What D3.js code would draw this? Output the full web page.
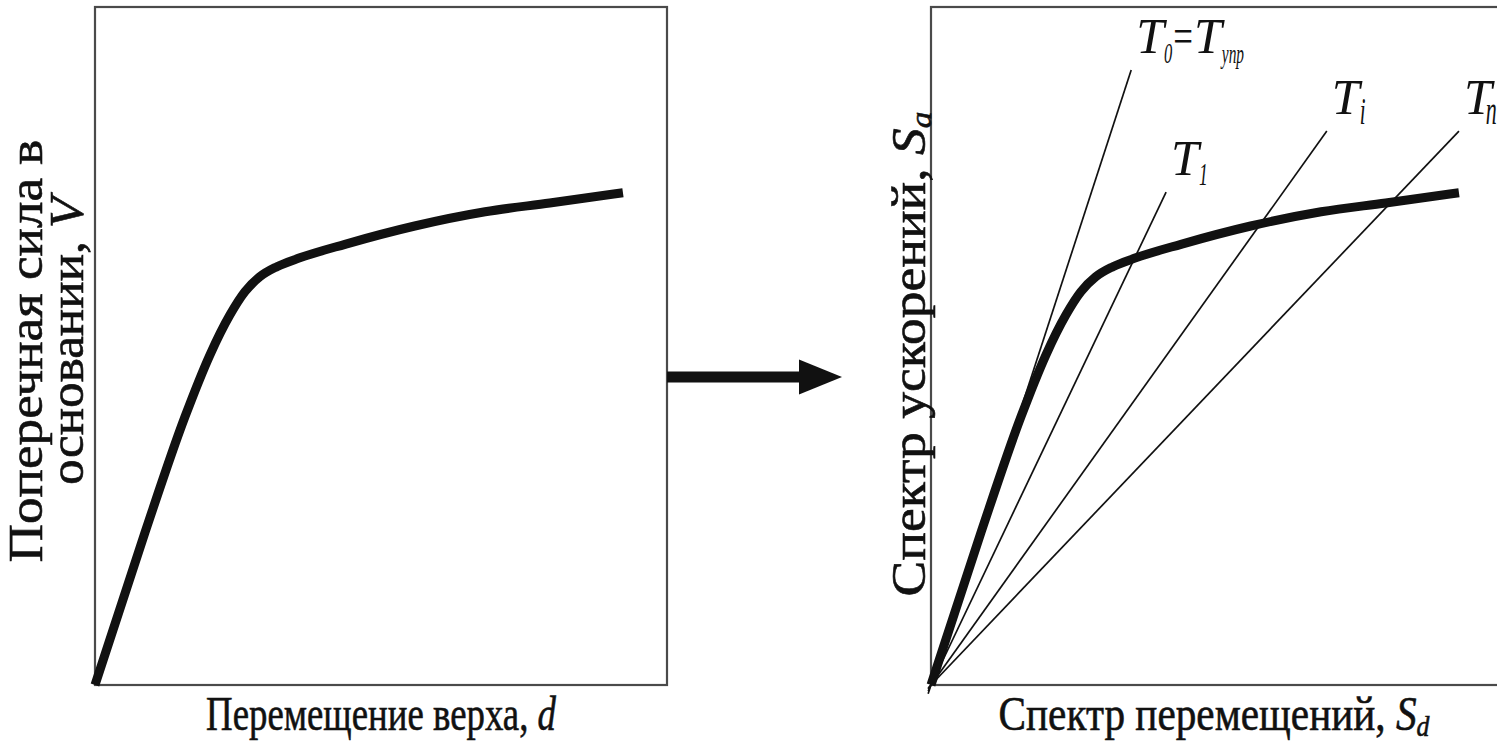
<!DOCTYPE html>
<html>
<head>
<meta charset="utf-8">
<script src="https://cdn.jsdelivr.net/npm/d3@7"></script>
<style>
  html, body { margin: 0; padding: 0; background: #fff; }
  svg { display: block; }
</style>
</head>
<body>
<svg id="chart" width="1497" height="744"></svg>
<script>
// Pushover curve: base shear V against roof displacement d (relative units)
const pushoverD = [0, 0.87, 1.57, 2.01, 2.36, 2.62, 2.88, 3.18, 3.58, 4.37, 5.59, 6.82, 7.95, 9.23];
const pushoverV = [0, 2.24, 3.95, 4.87, 5.46, 5.80, 6.02, 6.17, 6.30, 6.50, 6.77, 6.98, 7.11, 7.26];

// Capacity spectrum: the same curve converted to Sa–Sd coordinates
const capacitySd = [0, 0.87, 1.57, 2.01, 2.36, 2.62, 2.88, 3.18, 3.58, 4.37, 5.59, 6.82, 7.95, 9.23];
const capacitySa = [0, 2.24, 3.95, 4.87, 5.46, 5.80, 6.02, 6.17, 6.30, 6.50, 6.77, 6.98, 7.11, 7.26];

// Constant-period radial lines from the origin, given by their far end point
const periodNames = ["T0", "T1", "Ti", "Tn"];
const periodEndSd = [3.50, 4.11, 6.92, 9.23];
const periodEndSa = [9.07, 7.27, 8.17, 8.17];
const periodLabels = [
  [{ t: "T" }, { t: "0", sub: true, s: 30 }, { t: "=", op: true, k: 1 }, { t: "T", k: 1 }, { t: "упр", sub: true, s: 28, k: 0 }],
  [{ t: "T" }, { t: "1", sub: true, s: 32 }],
  [{ t: "T" }, { t: "i", sub: true, s: 38 }],
  [{ t: "T" }, { t: "n", sub: true, s: 40, k: -6 }]
];

// Axis titles (italic parts are marked)
const leftXTitle = [{ t: "Перемещение верха, " }, { t: "d", i: true }];
const leftYTitle1 = [{ t: "Поперечная сила в" }];
const leftYTitle2 = [{ t: "основании, " }, { t: "V", i: true }];
const rightXTitle = [{ t: "Спектр перемещений, " }, { t: "S", i: true }, { t: "d", i: true, sub: true }];
const rightYTitle = [{ t: "Спектр ускорений, " }, { t: "S", i: true }, { t: "a", i: true, sub: true }];

// ---- layout ----
const FONT = '"Liberation Serif", "DejaVu Serif Condensed", "DejaVu Serif", serif';
const panelW = 572, panelH = 678, panelTop = 7;
const leftX0 = 95, rightX0 = 931;

const svg = d3.select("#chart");
svg.append("rect").attr("width", 1497).attr("height", 744).attr("fill", "#fff");

const x = d3.scaleLinear().domain([0, 10]).range([0, panelW]);
const y = d3.scaleLinear().domain([0, 10]).range([panelH, 0]);

function panel(x0) {
  const g = svg.append("g").attr("transform", `translate(${x0},${panelTop})`);
  g.append("rect")
    .attr("x", 0).attr("y", 0).attr("width", panelW).attr("height", panelH)
    .attr("fill", "none").attr("stroke", "#4a4a4a").attr("stroke-width", 2.2);
  return g;
}

const curveLine = d3.line()
  .x(p => x(p[0]))
  .y(p => y(p[1]))
  .curve(d3.curveMonotoneX);

// Left panel: pushover curve
const gl = panel(leftX0);
gl.append("path")
  .datum(d3.zip(pushoverD, pushoverV))
  .attr("d", curveLine)
  .attr("fill", "none").attr("stroke", "#111").attr("stroke-width", 9)
  .attr("stroke-linejoin", "round");

// Right panel: radial period lines + capacity spectrum
const gr = panel(rightX0);
const radial = d3.line().x(p => x(p[0])).y(p => y(p[1]));
periodNames.forEach((name, i) => {
  gr.append("path")
    .datum([[-0.05, -0.05 * periodEndSa[i] / periodEndSd[i]], [periodEndSd[i], periodEndSa[i]]])
    .attr("d", radial)
    .attr("fill", "none").attr("stroke", "#111").attr("stroke-width", 1.7);
});
gr.append("path")
  .datum(d3.zip(capacitySd, capacitySa))
  .attr("d", curveLine)
  .attr("fill", "none").attr("stroke", "#111").attr("stroke-width", 9)
  .attr("stroke-linejoin", "round");

// Period labels placed just above the end of each line
periodLabels.forEach((parts, i) => {
  const lx = x(periodEndSd[i]) + 5, ly = y(periodEndSa[i]) - 17;
  const lab = gr.append("g").attr("transform", `translate(${lx},${ly})`);
  let cx = 0;
  parts.forEach(p => {
    const size = p.sub ? p.s : 50;
    const sx = p.sub ? 0.55 : (p.op ? 0.7 : 1);
    const k = p.k || 0;
    const t = lab.append("text")
      .attr("font-family", FONT)
      .attr("font-size", size)
      .attr("font-style", p.op ? "normal" : "italic")
      .attr("fill", "#111")
      .attr("transform", `translate(${cx + k},${p.sub ? 10 : 0}) scale(${sx},1)`)
      .text(p.t);
    cx += k + t.node().getComputedTextLength() * sx;
  });
});

// Axis titles: written with tspans, then stretched to the wanted length
function title(parts, tx, ty, rot, len) {
  const t = svg.append("text")
    .attr("font-family", FONT).attr("font-size", 48).attr("fill", "#111")
    .attr("stroke", "#111").attr("stroke-width", 0.6)
    .attr("text-anchor", "middle");
  parts.forEach(p => {
    const ts = t.append("tspan").text(p.t);
    if (p.i) ts.attr("font-style", "italic");
    if (p.sub) ts.attr("font-size", 30).attr("dy", 6);
  });
  const natural = t.node().getComputedTextLength();
  t.attr("transform", `translate(${tx},${ty}) rotate(${rot}) scale(${len / natural},1)`);
  return t;
}

title(leftXTitle, leftX0 + panelW / 2, 730, 0, 350);
title(rightXTitle, rightX0 + panelW / 2 - 3, 730, 0, 431);
title(leftYTitle1, 42, 351, -90, 423);
title(leftYTitle2, 83, 341, -90, 288);
title(rightYTitle, 925, 354, -90, 485);

// Arrow from the pushover panel to the spectrum panel
const arrowY = panelTop + 370;
const shaftStart = leftX0 + panelW, shaftEnd = 803, tipX = 842;
svg.append("rect")
  .attr("x", shaftStart).attr("y", arrowY - 5.5)
  .attr("width", shaftEnd - shaftStart).attr("height", 11)
  .attr("fill", "#111");
svg.append("path")
  .attr("d", `M${shaftEnd - 4},${arrowY - 17.5} L${tipX},${arrowY} L${shaftEnd - 4},${arrowY + 17.5} Z`)
  .attr("fill", "#111");
</script>
</body>
</html>
